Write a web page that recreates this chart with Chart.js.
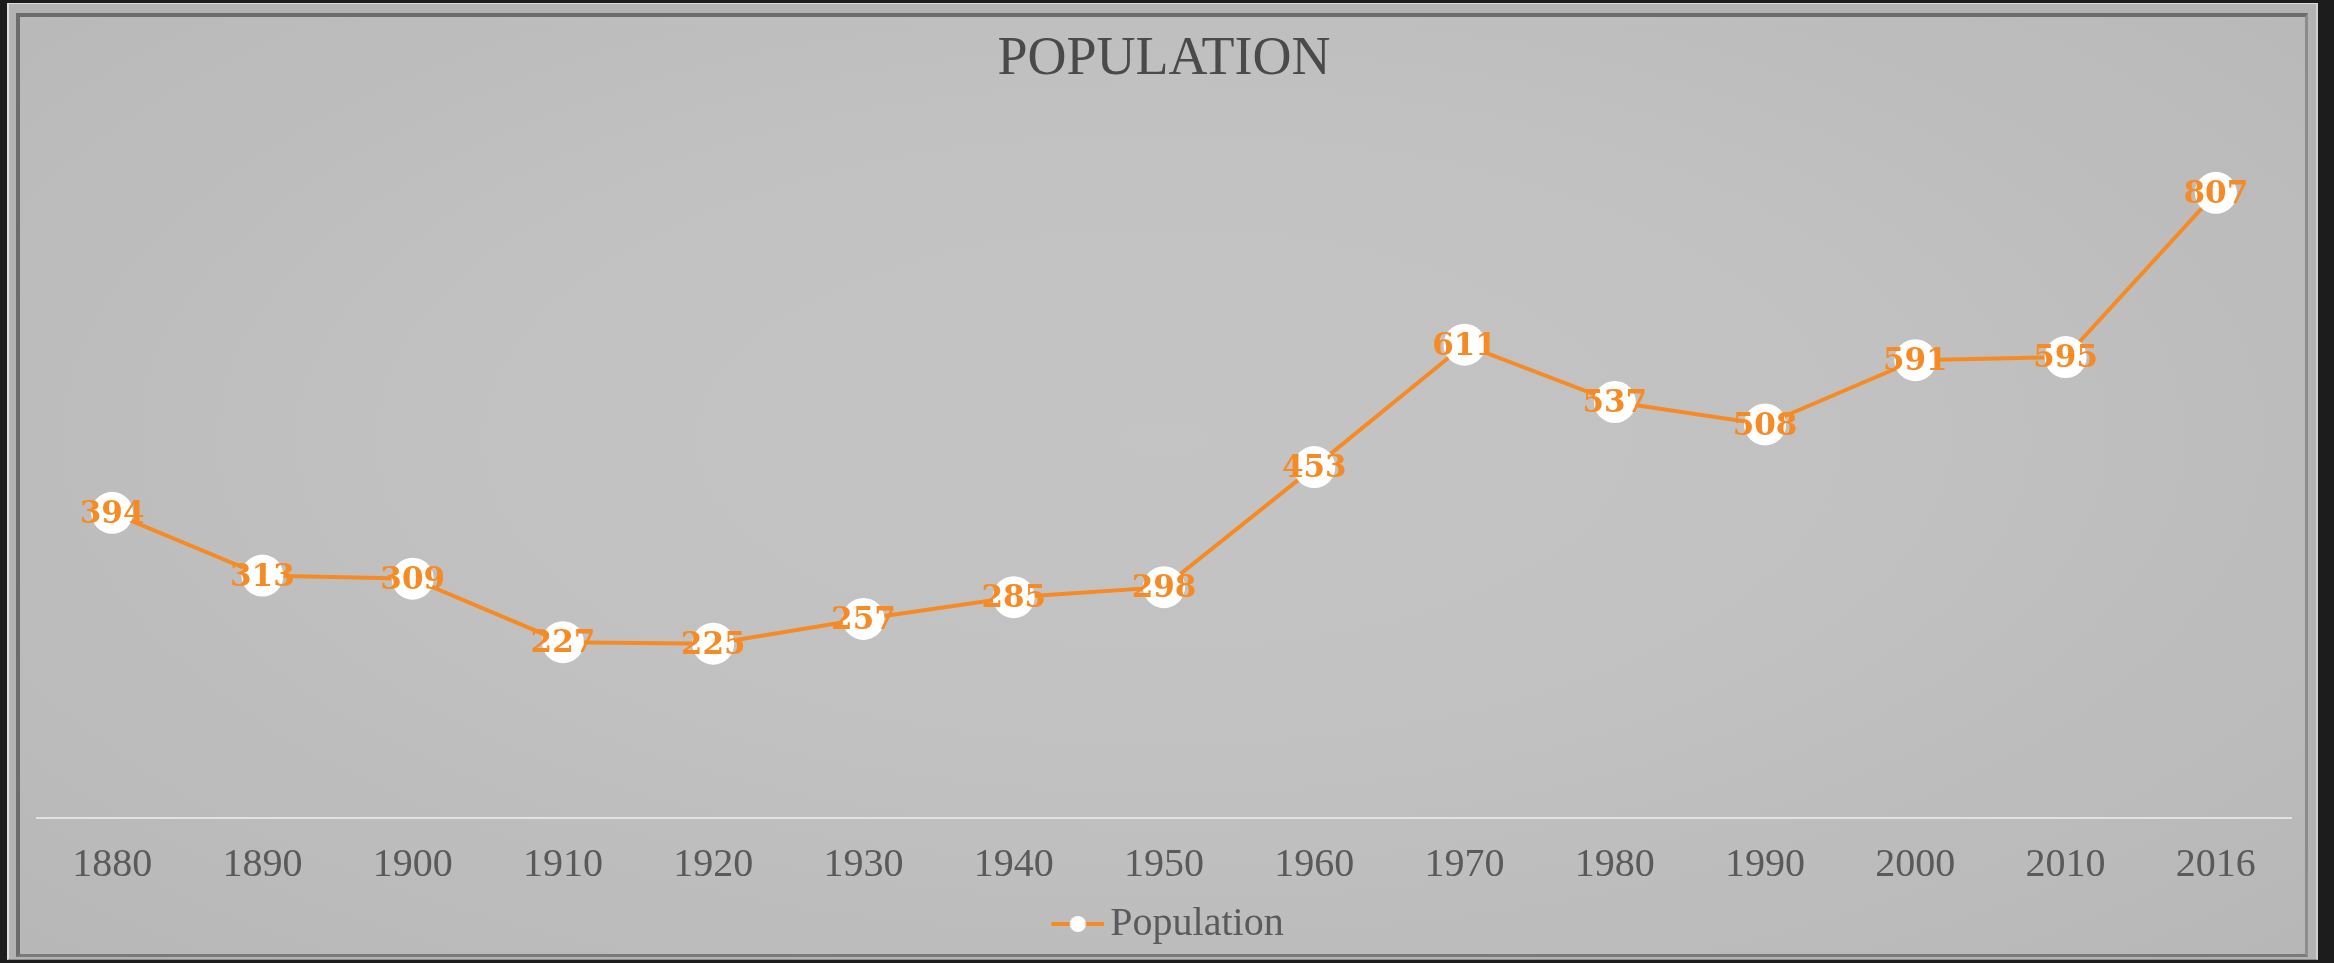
<!DOCTYPE html>
<html>
<head>
<meta charset="utf-8">
<script src="https://cdn.jsdelivr.net/npm/chart.js@4.4.1/dist/chart.umd.min.js"></script>
<style>
  html, body { margin: 0; padding: 0; background: #1c1c1c; overflow: hidden; }
  #wrap { position: relative; width: 2334px; height: 963px; }
  .outer {
    position: absolute; left: 7px; top: 3px; width: 2311px; height: 957px;
    box-sizing: border-box; background: #b3b3b3;
    border-top: 1px solid #dedede; border-left: 2px solid #dedede;
    border-right: 2px solid #d0d0d0; border-bottom: 1px solid #8a8a8a;
  }
  .inner {
    position: absolute; left: 7px; top: 9px; right: 8px; bottom: 2px;
    box-sizing: border-box;
    border-top: 4px solid #6c6c6c; border-left: 4px solid #6c6c6c;
    border-right: 3px solid #8c8c8c; border-bottom: 3px solid #7a7a7a;
    background: radial-gradient(ellipse at 50% 45%, #c4c4c4 0%, #c1c1c1 45%, #b7b7b7 100%);
  }
  canvas { position: absolute; left: 0; top: 0; }
</style>
</head>
<body>
<div id="wrap">
  <div class="outer"><div class="inner"></div></div>
  <canvas id="popChart" width="2334" height="963"></canvas>
</div>
<script>
const years = ['1880', '1890', '1900', '1910', '1920', '1930', '1940', '1950', '1960', '1970', '1980', '1990', '2000', '2010', '2016'];
const population = [394, 313, 309, 227, 225, 257, 285, 298, 453, 611, 537, 508, 591, 595, 807];
const yMin = 0;
const yMax = 900;

const orange = '#f68b26';

// legend symbol: short line with a white dot (drawn in the right part of the image)
function legendMarker() {
    const c = document.createElement('canvas');
    c.width = 74; c.height = 18;
    const g = c.getContext('2d');
    g.strokeStyle = orange;
    g.lineWidth = 4;
    g.beginPath(); g.moveTo(21, 9); g.lineTo(74, 9); g.stroke();
    g.fillStyle = '#ffffff';
    g.beginPath(); g.arc(47.5, 9, 8, 0, Math.PI * 2); g.fill();
    return c;
}

// numbers on top of each point
const valueLabels = {
    id: 'valueLabels',
    afterDatasetsDraw(chart) {
        const ctx = chart.ctx;
        const meta = chart.getDatasetMeta(0);
        const values = chart.data.datasets[0].data;
        ctx.save();
        ctx.font = 'bold 31px "DejaVu Serif"';
        ctx.fillStyle = orange;
        ctx.textAlign = 'center';
        ctx.textBaseline = 'middle';
        meta.data.forEach(function(pt, i) {
            ctx.fillText(String(values[i]), pt.x, pt.y + 2);
        });
        ctx.restore();
    }
};

document.addEventListener('DOMContentLoaded', function() {
    const marker = legendMarker();
    const ctx = document.getElementById('popChart').getContext('2d');
    new Chart(ctx, {
        type: 'line',
        data: {
            labels: years,
            datasets: [{
                label: 'Population',
                data: population,
                borderColor: orange,
                borderWidth: 4,
                pointRadius: 21,
                pointHoverRadius: 21,
                pointBackgroundColor: '#ffffff',
                pointBorderWidth: 0,
                tension: 0,
                fill: false
            }]
        },
        plugins: [valueLabels],
        options: {
            responsive: false,
            animation: false,
            layout: { padding: { left: 37, right: 43, top: 0, bottom: 9 } },
            scales: {
                x: {
                    offset: true,
                    grid: { display: false, drawTicks: false },
                    border: { display: true, color: '#e2e2e2', width: 2 },
                    ticks: {
                        padding: 23,
                        color: '#5a5a5a',
                        font: { family: 'Liberation Serif', size: 40 }
                    },
                    afterFit: function(scale) { scale.height = 76; }
                },
                y: {
                    display: false,
                    min: yMin,
                    max: yMax
                }
            },
            plugins: {
                title: {
                    display: true,
                    text: 'POPULATION',
                    color: '#4a4a4a',
                    font: { family: 'Liberation Serif', size: 54, weight: 'normal' },
                    padding: { top: 27, bottom: 29 }
                },
                legend: {
                    position: 'bottom',
                    labels: {
                        usePointStyle: true,
                        pointStyleWidth: 46,
                        color: '#5a5a5a',
                        font: { family: 'Liberation Serif', size: 40 },
                        padding: 10,
                        generateLabels: function(chart) {
                            return [{
                                text: 'Population',
                                pointStyle: marker,
                                fontColor: '#5a5a5a',
                                lineWidth: 0,
                                strokeStyle: 'transparent',
                                fillStyle: 'transparent',
                                datasetIndex: 0
                            }];
                        }
                    }
                },
                tooltip: { enabled: false }
            }
        }
    });
});
</script>
</body>
</html>
